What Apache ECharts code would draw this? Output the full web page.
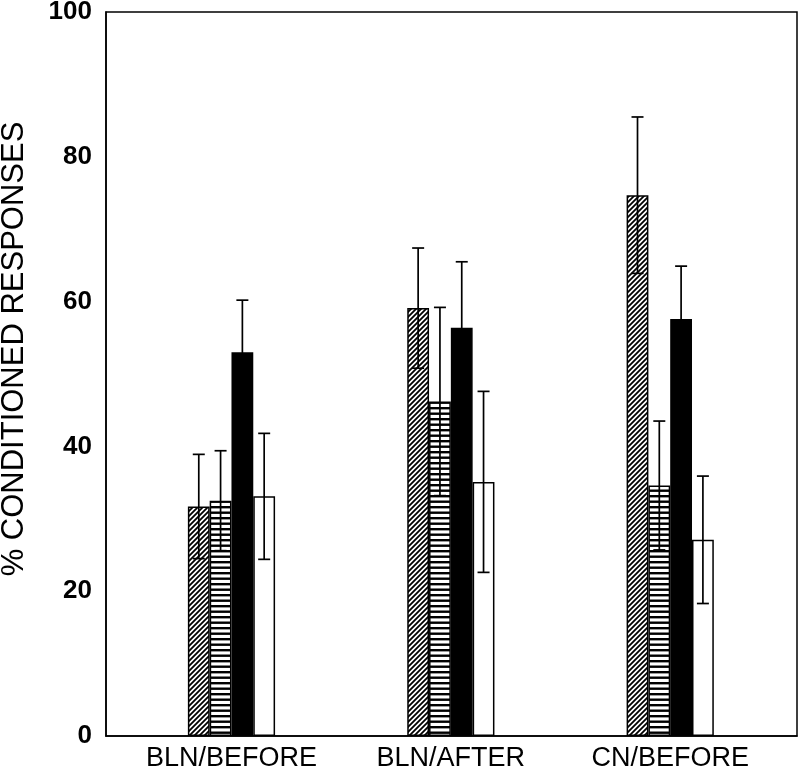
<!DOCTYPE html>
<html>
<head>
<meta charset="utf-8">
<script src="https://cdn.jsdelivr.net/npm/echarts@6/dist/echarts.min.js"></script>
<style>
  html, body { margin: 0; padding: 0; background: #fff; }
  #chart { width: 800px; height: 775px; }
</style>
</head>
<body>
<div id="chart"></div>
<script>
// ---- data ----
const categories = ['BLN/BEFORE', 'BLN/AFTER', 'CN/BEFORE'];
const yTicks = [0, 20, 40, 60, 80, 100];
const diagValues   = [31.7, 59.1, 74.7];
const diagErrors   = [7.2, 8.3, 10.8];
const stripeValues = [32.5, 46.2, 34.6];
const stripeErrors = [6.9, 13.0, 8.9];
const blackValues  = [53.0, 56.4, 57.6];
const blackErrors  = [7.2, 9.1, 7.3];
const whiteValues  = [33.1, 35.1, 27.1];
const whiteErrors  = [8.7, 12.5, 8.8];

// ---- styling helpers ----
const FONT = '"Liberation Sans", Arial, sans-serif';
const BAR_W = 21.8;

function diagPattern() {
  const s = 5;
  const c = document.createElement('canvas');
  c.width = s; c.height = s;
  const ctx = c.getContext('2d');
  ctx.fillStyle = '#fff'; ctx.fillRect(0, 0, s, s);
  ctx.strokeStyle = '#000'; ctx.lineWidth = 1.8;
  ctx.beginPath();
  ctx.moveTo(0, s); ctx.lineTo(s, 0);
  ctx.moveTo(-1, 1); ctx.lineTo(1, -1);
  ctx.moveTo(s - 1, s + 1); ctx.lineTo(s + 1, s - 1);
  ctx.stroke();
  return c;
}
function stripePattern() {
  const c = document.createElement('canvas');
  c.width = 4; c.height = 11;
  const ctx = c.getContext('2d');
  ctx.fillStyle = '#fff'; ctx.fillRect(0, 0, 4, 11);
  ctx.fillStyle = '#000';
  ctx.fillRect(0, 0, 4, 2.4);
  ctx.fillRect(0, 5.5, 4, 2.4);
  return c;
}

const seriesDefs = [
  { name: 'diag',   values: diagValues,   errors: diagErrors,   color: { image: diagPattern(), repeat: 'repeat' } },
  { name: 'stripe', values: stripeValues, errors: stripeErrors, color: { image: stripePattern(), repeat: 'repeat' } },
  { name: 'black',  values: blackValues,  errors: blackErrors,  color: '#000' },
  { name: 'white',  values: whiteValues,  errors: whiteErrors,  color: '#fff' }
];
const N = seriesDefs.length;

const series = [];
seriesDefs.forEach((s, k) => {
  series.push({
    type: 'bar',
    name: s.name,
    barWidth: BAR_W,
    barGap: '0%',
    data: s.values.map((v, i) => [i + 1, v]),
    itemStyle: { color: s.color, borderColor: '#000', borderWidth: 1.5 },
    z: 2,
    silent: true
  });
});
seriesDefs.forEach((s, k) => {
  series.push({
    type: 'custom',
    name: s.name + '-err',
    z: 5,
    silent: true,
    data: s.values.map((v, i) => [i + 1, v, s.errors[i]]),
    renderItem: function (params, api) {
      const x = api.value(0), y = api.value(1), e = api.value(2);
      const cx = api.coord([x, y])[0] + (k - (N - 1) / 2) * BAR_W;
      const top = api.coord([x, y + e])[1];
      const bot = api.coord([x, y - e])[1];
      const hw = 6;
      const st = { stroke: '#000', lineWidth: 1.7 };
      return {
        type: 'group',
        children: [
          { type: 'line', shape: { x1: cx, y1: top, x2: cx, y2: bot }, style: st },
          { type: 'line', shape: { x1: cx - hw, y1: top, x2: cx + hw, y2: top }, style: st },
          { type: 'line', shape: { x1: cx - hw, y1: bot, x2: cx + hw, y2: bot }, style: st }
        ]
      };
    }
  });
});

const chart = echarts.init(document.getElementById('chart'), null, { renderer: 'canvas' });
chart.setOption({
  animation: false,
  backgroundColor: '#fff',
  grid: {
    left: 106, right: 3, top: 12, bottom: 39,
    containLabel: false,
    outerBoundsMode: 'none',
    show: true, borderColor: '#000', borderWidth: 1.5, backgroundColor: '#fff'
  },
  xAxis: {
    type: 'value',
    min: 0.428,
    max: 3.578,
    splitLine: { show: false },
    axisLine: { lineStyle: { color: '#000', width: 1.5 } },
    axisTick: { show: false },
    axisLabel: {
      customValues: categories.map((c, i) => i + 1),
      formatter: v => categories[Math.round(v) - 1] || '',
      color: '#000',
      fontFamily: FONT,
      fontSize: 27,
      margin: 9
    }
  },
  yAxis: {
    type: 'value',
    min: yTicks[0],
    max: yTicks[yTicks.length - 1],
    interval: 20,
    name: '% CONDITIONED RESPONSES',
    nameLocation: 'middle',
    nameGap: 76,
    nameTextStyle: { color: '#000', fontFamily: FONT, fontSize: 31, padding: [0, 0, 0, 50] },
    splitLine: { show: false },
    axisLine: { show: true, lineStyle: { color: '#000', width: 1.5 } },
    axisTick: { show: false },
    axisLabel: { color: '#000', fontFamily: FONT, fontSize: 26, fontWeight: 'bold', margin: 14 }
  },
  series: series
});
</script>
</body>
</html>
